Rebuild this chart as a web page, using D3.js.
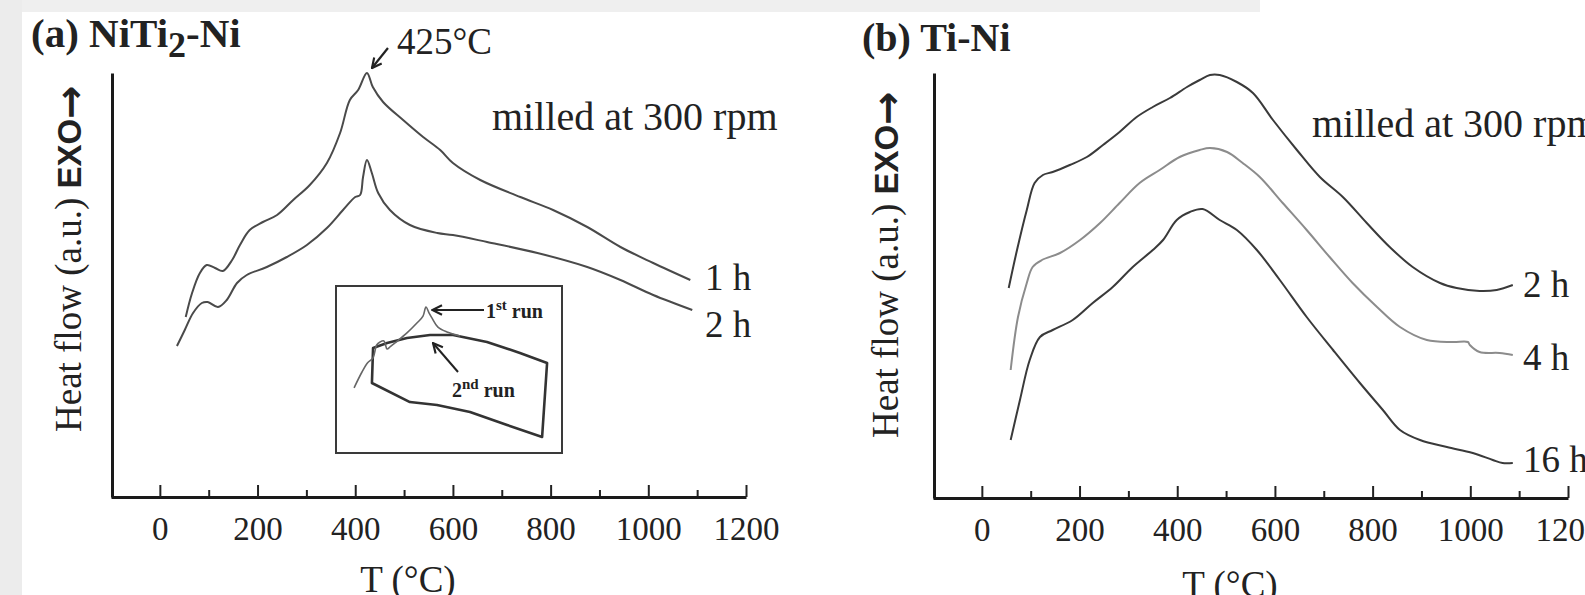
<!DOCTYPE html>
<html>
<head>
<meta charset="utf-8">
<script src="https://cdn.jsdelivr.net/npm/d3@7"></script>
<style>
body{margin:0;background:#fff;}
svg{display:block;}
</style>
</head>
<body>
<div id="vis"></div>
<script>
var W = 1585, H = 595;

// tick values (deg C)
var ticksMajor = [0, 200, 400, 600, 800, 1000, 1200];
var ticksMinor = [100, 300, 500, 700, 900, 1100];

// (a) NiTi2-Ni, [T, heat flow a.u.]
var a1h = [[53,180],[66,204],[82,224],[96,232],[113,229],[129,226],[148,237],[164,252],[184,267],[211,275],
  [240,282],[273,297],[307,312],[342,334],[369,364],[389,397],[406,407],[424,424],[436,410],[457,395],
  [498,377],[539,360],[574,347],[600,334],[656,317],[738,300],[805,287],[875,270],[943,250],[1010,234],[1086,217]];
var a2h = [[35,151],[51,167],[68,184],[86,194],[98,195],[119,190],[137,197],[158,214],[178,222],[219,230],
  [260,240],[301,252],[342,269],[375,287],[400,300],[410,302],[416,320],[424,337],[434,324],[447,304],
  [471,287],[512,272],[568,264],[600,262],[670,255],[773,244],[875,230],[943,217],[1010,202],[1090,187]];

// inset, arbitrary units 0-100
var inset1st = [[8,39],[11.5,48.5],[14,54],[16.4,57],[18,64.7],[19.5,66.5],[21.2,67.1],[22.6,62.3],[23.9,63.5],
  [26.1,65.9],[31.4,71.9],[35.8,77.8],[38.5,82],[39.8,87.4],[41.2,83.8],[42.5,80.8],[45.1,75.4],[49.1,72.5],[54.9,70.1]];
var inset2nd = [[16.4,62.9],[22.6,65.9],[31.4,68.9],[41.6,70.7],[51.8,70.7],[66.8,66.5],[81.4,59.9],[93.4,53.9],
  [91.2,9.6],[75.7,16.8],[59.3,24.6],[44.7,28.7],[32.7,30.5],[15.9,41.9]];

// (b) Ti-Ni
var b2h = [[55,210],[72,248],[92,288],[108,315],[125,323],[145,326],[180,333],[215,341],[248,353],[282,366],
  [317,381],[350,391],[385,400],[420,411],[446,418],[467,423],[487,423],[522,416],[555,405],[596,378],
  [645,348],[692,321],[739,301],[788,275],[835,251],[882,231],[938,215],[972,210],[1019,207],[1054,208],[1087,213]];
var b4h = [[59,128],[74,181],[92,215],[104,231],[123,238],[160,245],[201,258],[242,275],[282,295],[323,315],
  [364,328],[405,341],[446,348],[467,350],[502,346],[534,335],[569,321],[616,295],[665,268],[712,241],
  [759,215],[809,191],[856,171],[911,158],[964,156],[995,156],[999,153],[1019,146],[1060,145],[1087,143]];
var b16h = [[59,58],[78,98],[98,138],[119,161],[145,168],[186,178],[227,195],[268,211],[309,231],[350,248],
  [371,258],[399,278],[426,286],[452,289],[487,278],[522,268],[563,248],[610,218],[665,181],[719,148],
  [774,115],[821,88],[856,68],[897,58],[952,51],[1005,45],[1046,38],[1066,35],[1087,35]];

var serif = "'Liberation Serif','Times New Roman',serif";
var sans = "'Liberation Sans',Arial,sans-serif";

var svg = d3.select("div#vis").append("svg")
  .attr("width", W)
  .attr("height", H);

// scanned page edges
svg.append("rect").attr("x",0).attr("y",0).attr("width",1260).attr("height",12).style("fill","#efefef");
svg.append("rect").attr("x",0).attr("y",0).attr("width",22).attr("height",H).style("fill","#ececec");

var defs = svg.append("defs");
defs.append("marker").attr("id","arr")
  .attr("viewBox","0 0 10 10").attr("refX",9).attr("refY",5)
  .attr("markerWidth",12).attr("markerHeight",12).attr("markerUnits","userSpaceOnUse")
  .attr("orient","auto")
  .append("path").attr("d","M1,1 L9,5 L1,9").style("fill","none").style("stroke","#222").style("stroke-width",1.8);

var xA = d3.scaleLinear().domain([-100,1200]).range([111,746]);
var yA = d3.scaleLinear().domain([0,424]).range([497,73]);
var xB = d3.scaleLinear().domain([-100,1200]).range([933,1568]);
var yB = d3.scaleLinear().domain([0,425]).range([498,73]);

function axes(xs, ys) {
  var y0 = ys.range()[0];
  svg.append("g").attr("transform","translate(0,"+y0+")")
    .call(d3.axisBottom(xs).tickValues(ticksMinor).tickSize(-7).tickSizeOuter(0).tickFormat(""))
    .call(function(g){ g.select(".domain").remove(); })
    .selectAll("line").style("stroke","#222").style("stroke-width",2);
  var gx = svg.append("g").attr("transform","translate(0,"+y0+")")
    .call(d3.axisBottom(xs).tickValues(ticksMajor).tickSize(-12).tickSizeOuter(0).tickPadding(20).tickFormat(d3.format("d")));
  gx.select(".domain").style("stroke","#1a1a1a").style("stroke-width",3);
  gx.selectAll("line").style("stroke","#222").style("stroke-width",2);
  gx.selectAll("text").style("font-family",serif).style("font-size","33px").style("fill","#222");
  var gy = svg.append("g").attr("transform","translate("+(xs.range()[0]+1)+",0)")
    .call(d3.axisLeft(ys).tickValues([]).tickSizeOuter(0));
  gy.select(".domain").style("stroke","#1a1a1a").style("stroke-width",3);
}
axes(xA, yA);
axes(xB, yB);

function curve(data, xs, ys, color, wd) {
  var line = d3.line().x(function(d){return xs(d[0]);}).y(function(d){return ys(d[1]);})
    .curve(d3.curveCatmullRom.alpha(0.5));
  svg.append("path").attr("d", line(data))
    .style("fill","none").style("stroke",color).style("stroke-width",wd).style("stroke-linejoin","round");
}
curve(a1h, xA, yA, "#4a4a4a", 2);
curve(a2h, xA, yA, "#4a4a4a", 2);
curve(b2h, xB, yB, "#3a3a3a", 2);
curve(b4h, xB, yB, "#8c8c8c", 2);
curve(b16h, xB, yB, "#3a3a3a", 2);

// inset
var ix = d3.scaleLinear().domain([0,100]).range([336,562]);
var iy = d3.scaleLinear().domain([0,100]).range([453,286]);
svg.append("rect").attr("x",ix(0)).attr("y",iy(100)).attr("width",ix(100)-ix(0)).attr("height",iy(0)-iy(100))
  .style("fill","none").style("stroke","#3a3a3a").style("stroke-width",2);
svg.append("path")
  .attr("d", d3.line().x(function(d){return ix(d[0]);}).y(function(d){return iy(d[1]);}).curve(d3.curveLinearClosed)(inset2nd))
  .style("fill","none").style("stroke","#333").style("stroke-width",2.6).style("stroke-linejoin","round");
svg.append("path")
  .attr("d", d3.line().x(function(d){return ix(d[0]);}).y(function(d){return iy(d[1]);}).curve(d3.curveCatmullRom)(inset1st))
  .style("fill","none").style("stroke","#666").style("stroke-width",1.6);

function arrow(x1,y1,x2,y2,w) {
  svg.append("line").attr("x1",x1).attr("y1",y1).attr("x2",x2).attr("y2",y2)
    .style("stroke","#222").style("stroke-width",w||2).attr("marker-end","url(#arr)");
}
// inset labels
arrow(484, 310, ix(40)+6, 310, 2);
var t1 = svg.append("text").attr("x",486).attr("y",318).style("font-family",serif).style("font-weight","bold").style("font-size","20px").style("fill","#222");
t1.append("tspan").text("1");
t1.append("tspan").attr("dy",-8).style("font-size","15px").text("st");
t1.append("tspan").attr("dy",8).text(" run");
arrow(458, 372, 433, 343, 2);
var t2 = svg.append("text").attr("x",452).attr("y",397).style("font-family",serif).style("font-weight","bold").style("font-size","20px").style("fill","#222");
t2.append("tspan").text("2");
t2.append("tspan").attr("dy",-8).style("font-size","15px").text("nd");
t2.append("tspan").attr("dy",8).text(" run");

// 425 C annotation
var px = xA(424), py = yA(424);
arrow(px+21, py-25, px+5, py-5, 2.2);
svg.append("text").attr("x",397).attr("y",54).style("font-family",serif).style("font-size","37px").style("fill","#222").text("425°C");

// titles
var ta = svg.append("text").attr("x",31).attr("y",47).style("font-family",serif).style("font-weight","bold").style("font-size","41px").style("fill","#222");
ta.append("tspan").text("(a) NiTi");
ta.append("tspan").attr("dy",10).style("font-size","36px").text("2");
ta.append("tspan").attr("dy",-10).text("-Ni");
svg.append("text").attr("x",862).attr("y",51).style("font-family",serif).style("font-weight","bold").style("font-size","40px").style("fill","#222").text("(b) Ti-Ni");

function txt(x, y, s, size, anchor) {
  svg.append("text").attr("x",x).attr("y",y).attr("text-anchor",anchor||"start")
    .style("font-family",serif).style("font-size",size+"px").style("fill","#222").text(s);
}
txt(492, 130, "milled at 300 rpm", 40);
txt(1312, 137, "milled at 300 rpm", 40);
txt(705, 290, "1 h", 37);
txt(705, 337, "2 h", 37);
txt(1523, 297, "2 h", 37);
txt(1523, 370, "4 h", 37);
txt(1523, 472, "16 h", 37);
txt(xA(508), 592, "T (°C)", 37, "middle");
txt(xB(508), 597, "T (°C)", 37, "middle");

// y titles
function ytitle(x, y) {
  var t = svg.append("text").attr("transform","translate("+x+","+y+") rotate(-90)").style("fill","#222");
  t.append("tspan").style("font-family",serif).style("font-size","37px").text("Heat flow (a.u.) ");
  t.append("tspan").style("font-family",sans).style("font-weight","bold").style("font-size","33px").text("EXO");
  t.append("tspan").attr("dy",3).style("font-family","'DejaVu Sans',sans-serif").style("font-weight","bold").style("font-size","40px").text("\u2192");
}
ytitle(81, 432);
ytitle(898, 438);
</script>
</body>
</html>
